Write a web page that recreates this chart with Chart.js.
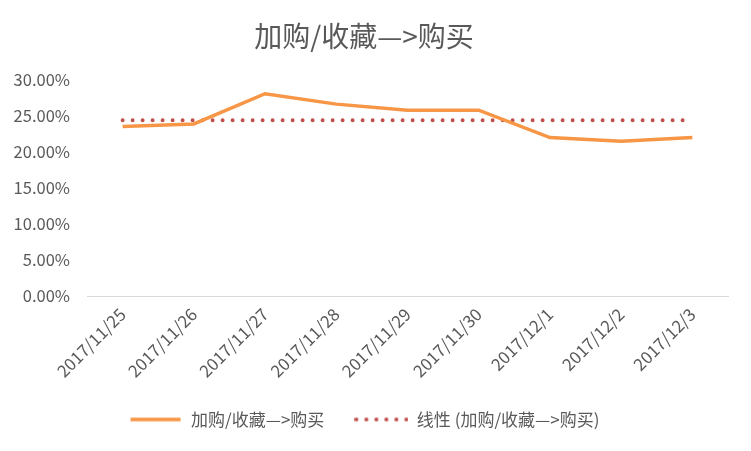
<!DOCTYPE html>
<html>
<head>
    <title>加购/收藏—>购买</title>
    <script src="https://cdn.jsdelivr.net/npm/chart.js"></script>
    <style>
        body { margin: 0; background: #fff; }
        #wrap { width: 751px; height: 451px; }
    </style>
</head>
<body>
<div id="wrap"><canvas id="myChart" width="751" height="451"></canvas></div>
<script>
    // data
    var dates = ['2017/11/25', '2017/11/26', '2017/11/27', '2017/11/28', '2017/11/29',
                 '2017/11/30', '2017/12/1', '2017/12/2', '2017/12/3'];
    var rate = [23.55, 23.9, 28.1, 26.65, 25.8, 25.8, 22.0, 21.5, 22.0];
    var trend = [24.4, 24.4, 24.4, 24.4, 24.4, 24.4, 24.4, 24.4, 24.4];
    var yTicks = [0, 5, 10, 15, 20, 25, 30];

    var font = "'Noto Sans CJK SC', 'Liberation Sans', sans-serif";
    var grey = '#595959';
    var orange = '#f79646';
    var red = '#c0504d';

    // little legend icons: solid line and dotted line
    function lineIcon(dotted, color) {
        var c = document.createElement('canvas');
        c.width = 54; c.height = 6;
        var g = c.getContext('2d');
        g.fillStyle = color;
        if (dotted) {
            for (var i = 0; i < 6; i++) {
                g.beginPath();
                g.arc(2 + i * 10, 3, 2, 0, Math.PI * 2);
                g.fill();
            }
        } else {
            g.fillRect(2, 1.2, 50, 3.6);
        }
        return c;
    }

    var ctx = document.getElementById('myChart').getContext('2d');
    var myChart = new Chart(ctx, {
        type: 'line',
        data: {
            labels: dates,
            datasets: [{
                label: '加购/收藏—>购买',
                data: rate,
                borderColor: orange,
                backgroundColor: orange,
                borderWidth: 3.5,
                pointRadius: 0,
                pointStyle: lineIcon(false, orange),
                tension: 0
            }, {
                label: '线性 (加购/收藏—>购买)',
                data: trend,
                borderColor: red,
                backgroundColor: red,
                borderWidth: 4,
                borderDash: [0, 10],
                borderCapStyle: 'round',
                pointRadius: 0,
                pointStyle: lineIcon(true, red)
            }]
        },
        options: {
            responsive: false,
            animation: false,
            layout: { padding: { left: 0, right: 23, top: 0, bottom: 13 } },
            plugins: {
                title: {
                    display: true,
                    text: '加购/收藏—>购买',
                    color: grey,
                    font: { family: font, size: 28, weight: 'normal' },
                    padding: { top: 20, bottom: 26.4 }
                },
                legend: {
                    position: 'bottom',
                    labels: {
                        usePointStyle: true,
                        pointStyleWidth: 54,
                        color: grey,
                        font: { family: font, size: 17 },
                        padding: 30
                    }
                },
                tooltip: { enabled: false }
            },
            scales: {
                x: {
                    offset: true,
                    grid: { display: false, drawTicks: false },
                    border: { color: '#d9d9d9', width: 1 },
                    afterFit: function (axis) { axis.height = 85; },
                    ticks: {
                        color: grey,
                        font: { family: font, size: 17 },
                        minRotation: 45,
                        maxRotation: 45,
                        padding: 8
                    }
                },
                y: {
                    min: 0,
                    max: 30,
                    afterBuildTicks: function (axis) {
                        axis.ticks = yTicks.map(function (v) { return { value: v }; });
                    },
                    afterFit: function (axis) { axis.width = 87; },
                    grid: { display: false, drawTicks: false },
                    border: { display: false },
                    ticks: {
                        color: grey,
                        font: { family: font, size: 16.5 },
                        padding: 17,
                        callback: function (v) { return v.toFixed(2) + '%'; }
                    }
                }
            }
        }
    });
</script>
</body>
</html>
